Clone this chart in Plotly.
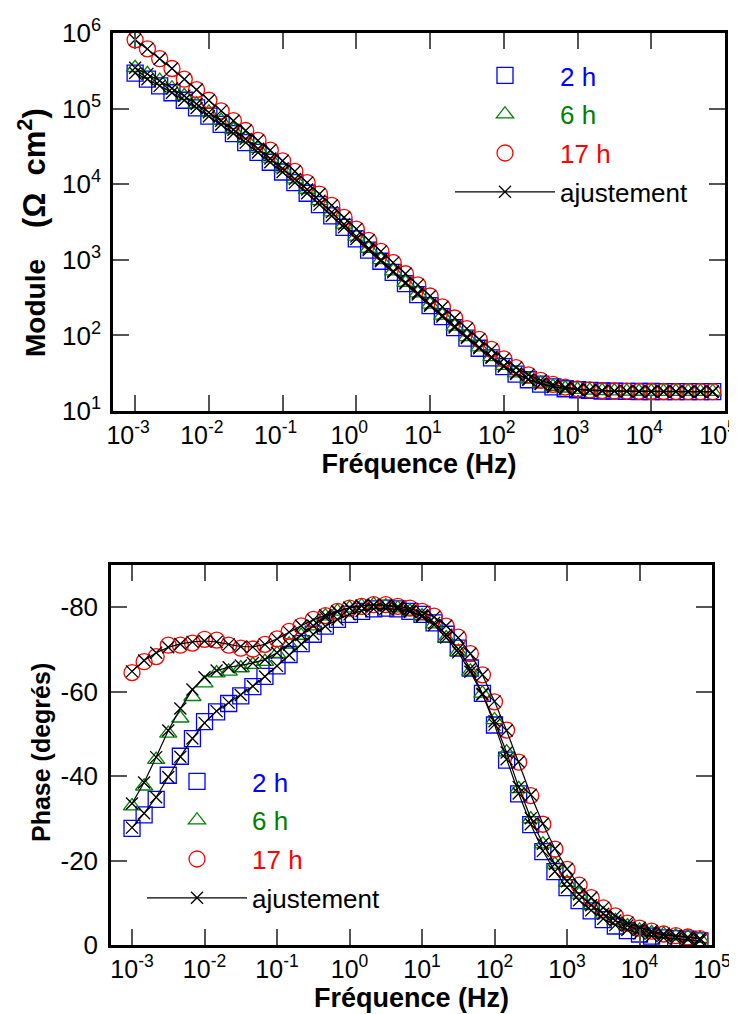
import plotly.graph_objects as go

# ---------------- data ----------------
freq = [0.001, 0.001468, 0.002154, 0.003162, 0.004642, 0.006813,
        0.01, 0.01468, 0.02154, 0.03162, 0.04642, 0.06813,
        0.1, 0.1468, 0.2154, 0.3162, 0.4642, 0.6813,
        1, 1.468, 2.154, 3.162, 4.642, 6.813,
        10, 14.68, 21.54, 31.62, 46.42, 68.13,
        100, 146.8, 215.4, 316.2, 464.2, 681.3,
        1000, 1468, 2154, 3162, 4642, 6813,
        10000, 14680, 21540, 31620, 46420, 68130]

mod_2h = [295000, 245000, 200000, 162000, 129000, 102000,
          79400, 61700, 46800, 35500, 26300, 19500,
          14500, 10500, 7590, 5370, 3800, 2690,
          1887, 1343, 957, 681, 485, 347,
          247, 177, 127, 92.2, 67.6, 50.5,
          38.7, 30.8, 25.9, 22.7, 20.8, 19.7,
          19.1, 18.7, 18.4, 18.3, 18.2, 18.1,
          18.1, 18.05, 18.05, 18.0, 18.0, 18.0]

mod_6h = [347000, 288000, 234000, 186000, 148000, 115000,
          89100, 69200, 52500, 39800, 29500, 21900,
          16200, 11700, 8510, 6030, 4270, 2950,
          2040, 1410, 1000, 708, 501, 363,
          257, 184, 132, 95.5, 70.0, 51.9,
          39.8, 31.6, 26.3, 23.2, 21.1, 20.0,
          19.2, 18.75, 18.5, 18.3, 18.2, 18.1,
          18.1, 18.05, 18.05, 18.0, 18.0, 18.0]

mod_17h = [813000, 617000, 457000, 339000, 245000, 178000,
           129000, 93300, 69200, 51300, 38000, 28200,
           20400, 14800, 10500, 7410, 5250, 3630,
           2547, 1812, 1291, 918, 654, 466,
           332, 238, 170, 123, 88.8, 65.2,
           48.9, 37.5, 30.1, 25.4, 22.5, 20.7,
           19.6, 19.0, 18.6, 18.4, 18.3, 18.2,
           18.1, 18.1, 18.05, 18.0, 18.0, 18.0]

# fitted modulus (ajustement) -- coincides with the data at this scale
fit_mod_2h = list(mod_2h)
fit_mod_6h = list(mod_6h)
fit_mod_17h = list(mod_17h)

ph_2h = [-27.6, -30.8, -34.5, -40.2, -44.7, -48.9,
         -52.9, -55.2, -57.2, -59.0, -61.2, -63.6,
         -66.1, -68.8, -71.4, -73.6, -75.5, -77.1,
         -78.3, -79.0, -79.6, -79.8, -79.6, -79.0,
         -78.3, -76.3, -73.6, -70.3, -65.6, -59.6,
         -52.1, -43.8, -35.8, -28.5, -22.1, -17.4,
         -13.6, -10.5, -8.1, -6.0, -4.5, -3.4,
         -2.6, -2.1, -1.7, -1.5, -1.4, -1.0]

ph_6h = [-32.9, -37.6, -43.9, -50.1, -53.7, -58.8,
         -62.0, -64.4, -64.8, -65.6, -66.4, -67.1,
         -69.0, -71.2, -73.3, -75.5, -77.9, -79.0,
         -79.8, -80.3, -80.6, -80.3, -79.8, -79.0,
         -77.9, -76.0, -72.7, -69.5, -64.8, -59.6,
         -53.3, -45.7, -37.0, -29.8, -23.9, -19.1,
         -14.8, -12.0, -9.3, -7.3, -5.7, -4.5,
         -3.5, -2.9, -2.5, -2.1, -1.9, -1.5]

ph_17h = [-64.5, -67.1, -68.3, -71.0, -71.0, -71.5,
          -72.4, -72.2, -71.0, -70.3, -70.1, -71.2,
          -72.5, -74.3, -75.6, -77.1, -78.0, -79.0,
          -79.8, -80.2, -80.6, -80.6, -80.2, -79.8,
          -79.0, -77.9, -75.5, -72.9, -69.0, -64.0,
          -57.6, -50.9, -43.3, -35.4, -28.6, -22.7,
          -17.9, -14.2, -11.2, -8.8, -6.9, -5.2,
          -4.0, -3.3, -2.6, -2.2, -1.9, -1.5]

fit_ph_2h = [-27.8, -31.2, -35.0, -39.8, -44.6, -48.9,
             -52.6, -55.4, -57.4, -59.2, -61.3, -63.6,
             -66.1, -68.7, -71.3, -73.6, -75.5, -77.1,
             -78.3, -79.1, -79.6, -79.7, -79.5, -78.9,
             -78.1, -76.3, -73.5, -70.1, -65.5, -59.5,
             -52.2, -44.0, -35.9, -28.6, -22.3, -17.4,
             -13.6, -10.6, -8.2, -6.2, -4.7, -3.6,
             -2.7, -2.1, -1.7, -1.5, -1.3, -1.0]

fit_ph_6h = [-33.5, -38.5, -44.5, -50.8, -56.0, -60.5,
             -63.4, -65.0, -65.8, -66.2, -66.8, -67.6,
             -69.2, -71.2, -73.4, -75.6, -77.6, -79.0,
             -79.9, -80.4, -80.6, -80.4, -79.9, -79.1,
             -77.8, -75.8, -72.8, -69.3, -64.7, -59.3,
             -53.0, -45.6, -37.4, -30.0, -24.0, -19.2,
             -15.1, -12.0, -9.4, -7.4, -5.8, -4.6,
             -3.6, -2.9, -2.4, -2.1, -1.8, -1.5]

fit_ph_17h = [-64.8, -67.4, -69.2, -70.5, -71.3, -71.8,
              -72.0, -71.8, -71.2, -70.7, -70.6, -71.2,
              -72.5, -74.1, -75.6, -77.0, -78.1, -79.0,
              -79.8, -80.3, -80.5, -80.5, -80.2, -79.7,
              -78.9, -77.7, -75.6, -72.8, -69.0, -64.0,
              -57.7, -50.8, -43.4, -35.6, -28.7, -22.8,
              -18.0, -14.2, -11.2, -8.8, -6.9, -5.3,
              -4.1, -3.3, -2.7, -2.2, -1.9, -1.5]

series_names = ["2 h", "6 h", "17 h"]
fit_name = "ajustement"
x_tickvals = [1e-3, 1e-2, 1e-1, 1e0, 1e1, 1e2, 1e3, 1e4, 1e5]
x_ticktext = ["10<sup>-3</sup>", "10<sup>-2</sup>", "10<sup>-1</sup>", "10<sup>0</sup>",
              "10<sup>1</sup>", "10<sup>2</sup>", "10<sup>3</sup>", "10<sup>4</sup>", "10<sup>5</sup>"]
y1_tickvals = [1e1, 1e2, 1e3, 1e4, 1e5, 1e6]
y1_ticktext = ["10<sup>1</sup>", "10<sup>2</sup>", "10<sup>3</sup>", "10<sup>4</sup>",
               "10<sup>5</sup>", "10<sup>6</sup>"]
y2_tickvals = [0, -20, -40, -60, -80]
y2_ticktext = ["0", "-20", "-40", "-60", "-80"]

# ---------------- styles ----------------
FONT = "Liberation Sans, Arial, sans-serif"
colors = ["#0000ff", "#008000", "#ff0000"]
symbols = ["square-open", "triangle-up-open", "circle-open"]
sizes = [16, 15, 16]

fig = go.Figure()

mods = [mod_2h, mod_6h, mod_17h]
fit_mods = [fit_mod_2h, fit_mod_6h, fit_mod_17h]
phs = [ph_2h, ph_6h, ph_17h]
fit_phs = [fit_ph_2h, fit_ph_6h, fit_ph_17h]

for panel, (data, fits, xa, ya, leg) in enumerate([
        (mods, fit_mods, "x", "y", "legend"),
        (phs, fit_phs, "x2", "y2", "legend2")]):
    for i in range(3):
        fig.add_trace(go.Scatter(
            x=freq, y=data[i], mode="markers", xaxis=xa, yaxis=ya,
            name='<span style="color:%s">%s</span>' % (colors[i], series_names[i]),
            legend=leg, legendgroup="g%d" % i, legendrank=i,
            marker=dict(symbol=symbols[i], size=sizes[i], color=colors[i],
                        line=dict(width=1.3, color=colors[i]))))
    for i in range(3):
        fig.add_trace(go.Scatter(
            x=freq, y=fits[i], mode="lines+markers", xaxis=xa, yaxis=ya,
            name=fit_name, legend=leg, legendgroup="fit", legendrank=5,
            showlegend=(i == 0),
            line=dict(color="black", width=1.2),
            marker=dict(symbol="x-thin-open", size=12, color="black",
                        line=dict(width=1.3, color="black"))))

axis_common = dict(showgrid=False, zeroline=False, showline=True, linecolor="black",
                   linewidth=2.5, mirror="ticks", ticks="inside", ticklen=16,
                   tickwidth=1.5, tickcolor="#555555", automargin=False)

xtickfont = dict(family=FONT, size=25, color="black")
ytickfont = dict(family=FONT, size=26, color="black")

legend_common = dict(font=dict(family=FONT, size=26, color="black"),
                     bgcolor="rgba(0,0,0,0)", itemwidth=100, tracegroupgap=2,
                     xanchor="left", yanchor="top", traceorder="grouped")

module_title = ('<b>Module    </b><b><span style="font-size:31px">'
                '(Ω  cm<sup>2</sup>)</span></b>')
phase_title = "<b>Phase (degrés)</b>"

fig.update_layout(
    width=737, height=1014, autosize=False,
    margin=dict(l=0, r=0, t=0, b=0, autoexpand=False),
    paper_bgcolor="white", plot_bgcolor="white",
    font=dict(family=FONT, color="black"),
    xaxis=dict(type="log", range=[-3.3, 5.0], domain=[105/737, 717/737], anchor="y",
               tickvals=x_tickvals, ticktext=x_ticktext, tickfont=xtickfont,
               ticklabelshift=-7,
               title=dict(text="<b>Fréquence (Hz)</b>", font=dict(family=FONT, size=27), standoff=6),
               **axis_common),
    yaxis=dict(type="log", range=[1, 6], domain=[1 - 403/1014, 1 - 25/1014], anchor="x",
               tickvals=y1_tickvals, ticktext=y1_ticktext, tickfont=ytickfont,
               ticklabelstandoff=4, **axis_common),
    xaxis2=dict(type="log", range=[-3.29, 5.0], domain=[103/737, 704/737], anchor="y2",
                tickvals=x_tickvals, ticktext=x_ticktext, tickfont=xtickfont,
                title=dict(text="<b>Fréquence (Hz)</b>", font=dict(family=FONT, size=27), standoff=6),
                **axis_common),
    yaxis2=dict(range=[0, -90], domain=[1 - 937/1014, 1 - 557/1014], anchor="x2",
                tickvals=y2_tickvals, ticktext=y2_ticktext, tickfont=ytickfont,
                ticklabelstandoff=5, **axis_common),
    legend=dict(x=442/737, y=1 - 44/1014, **legend_common),
    legend2=dict(x=134/737, y=1 - 750/1014, **legend_common),
    annotations=[
        dict(text=module_title, xref="paper", yref="paper", x=24/737, y=1 - 225/1014,
             xanchor="center", yanchor="middle", textangle=-90, showarrow=False,
             font=dict(family=FONT, size=28, color="black")),
        dict(text=phase_title, xref="paper", yref="paper", x=33/737, y=1 - 745/1014,
             xanchor="center", yanchor="middle", textangle=-90, showarrow=False,
             font=dict(family=FONT, size=25, color="black")),
    ],
)

fig.write_html("out.html")
